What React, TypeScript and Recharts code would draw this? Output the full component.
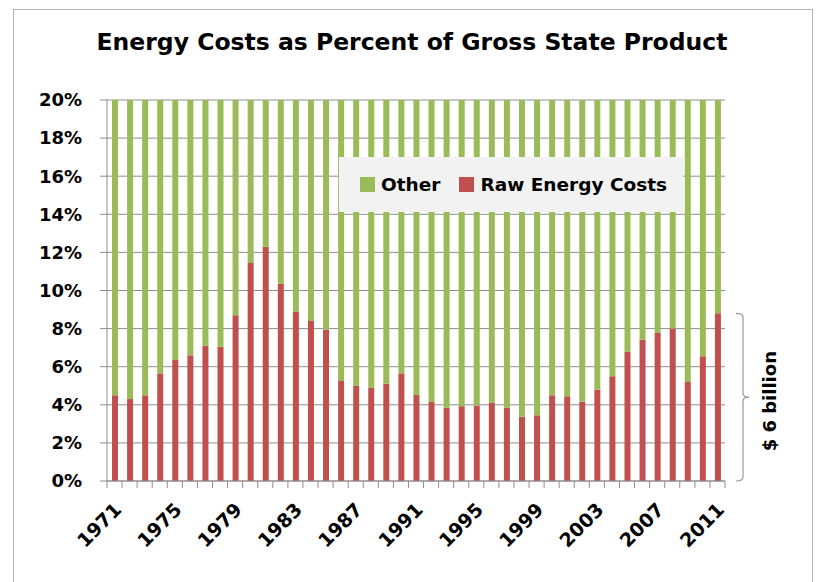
import { BarChart, Bar, XAxis, YAxis, CartesianGrid, ReferenceArea } from 'recharts'

const title = 'Energy Costs as Percent of Gross State Product'

const years = [
    1971, 1972, 1973, 1974, 1975, 1976, 1977, 1978, 1979, 1980,
    1981, 1982, 1983, 1984, 1985, 1986, 1987, 1988, 1989, 1990,
    1991, 1992, 1993, 1994, 1995, 1996, 1997, 1998, 1999, 2000,
    2001, 2002, 2003, 2004, 2005, 2006, 2007, 2008, 2009, 2010,
    2011,
]

// raw energy costs, % of gross state product
const rawEnergy = [
    4.5, 4.3, 4.5, 5.65, 6.35, 6.6, 7.1, 7.05, 8.7, 11.45,
    12.3, 10.35, 8.9, 8.4, 7.95, 5.25, 5.0, 4.9, 5.1, 5.65,
    4.52, 4.15, 3.85, 3.93, 3.96, 4.12, 3.85, 3.38, 3.45, 4.5,
    4.45, 4.17, 4.8, 5.5, 6.8, 7.42, 7.77, 8.0, 5.2, 6.55,
    8.8,
]

// bars are filled up to this total with "Other"
const TOTAL = 20
const yTicks = [0, 2, 4, 6, 8, 10, 12, 14, 16, 18, 20]
const labelEvery = 4

const seriesOther = 'Other'
const seriesRaw = 'Raw Energy Costs'
const bracketLabel = '$ 6 billion'

const data = years.map((year, i) => ({
    year: String(year),
    raw: rawEnergy[i],
    other: TOTAL - rawEnergy[i],
}))

const W = 817
const H = 582
const MARGIN = { top: 100, right: 92, bottom: 71, left: 47 }
const Y_AXIS_W = 60
const PLOT_W = W - MARGIN.left - Y_AXIS_W - MARGIN.right
const BAND = PLOT_W / years.length

const FONT = '"DejaVu Sans", sans-serif'
const GREEN = '#9BBB59'
const RED = '#C0504D'
const GRID = '#8e8e8e'

function YearTick(props: any) {
    const { x, y, index } = props
    const left = x - BAND / 2
    const isLast = index === years.length - 1
    const ax = x + 8
    const ay = y + 30
    return (
        <g>
            <line x1={left} y1={y} x2={left} y2={y + 7} stroke={GRID} />
            {isLast && <line x1={x + BAND / 2} y1={y} x2={x + BAND / 2} y2={y + 7} stroke={GRID} />}
            {index % labelEvery === 0 && (
                <text
                    x={ax}
                    y={ay}
                    textAnchor="end"
                    transform={`rotate(-45, ${ax}, ${ay})`}
                    fontFamily={FONT}
                    fontWeight="bold"
                    fontSize={19}
                    fill="#000"
                >
                    {props.payload.value}
                </text>
            )}
        </g>
    )
}

function Brace(props: any) {
    const { x, y, width, height } = props
    const vx = x + width + 18
    const top = y
    const bot = y + height
    const mid = (top + bot) / 2
    const d = `M ${vx - 7} ${top} Q ${vx} ${top} ${vx} ${top + 4} L ${vx} ${mid - 4} Q ${vx} ${mid} ${vx + 6} ${mid} Q ${vx} ${mid} ${vx} ${mid + 4} L ${vx} ${bot - 4} Q ${vx} ${bot} ${vx - 7} ${bot}`
    const tx = vx + 33
    const ty = mid + 4
    return (
        <g>
            <path d={d} fill="none" stroke="#9a9a9a" strokeWidth={1.2} />
            <text
                x={tx}
                y={ty}
                textAnchor="middle"
                transform={`rotate(-90, ${tx}, ${ty})`}
                fontFamily={FONT}
                fontWeight="bold"
                fontSize={18}
                fill="#000"
            >
                {bracketLabel}
            </text>
        </g>
    )
}

function LegendBox() {
    const item = (color: string, label: string, gap: number) => (
        <div style={{ display: 'flex', alignItems: 'center', marginRight: gap }}>
            <div style={{ width: 15, height: 15, background: color, marginRight: 6 }} />
            <span>{label}</span>
        </div>
    )
    return (
        <div
            style={{
                position: 'absolute',
                left: 339,
                top: 157,
                width: 344,
                height: 55,
                background: '#f2f2f2',
                display: 'flex',
                alignItems: 'center',
                paddingLeft: 21,
                boxSizing: 'border-box',
                fontFamily: FONT,
                fontWeight: 'bold',
                fontSize: 18.5,
                color: '#000',
            }}
        >
            {item(GREEN, seriesOther, 19)}
            {item(RED, seriesRaw, 0)}
        </div>
    )
}

export default function App() {
    return (
        <div style={{ position: 'relative', width: W, height: H, overflow: 'hidden', background: '#fff' }}>
            <style>{'body { margin: 0; }'}</style>
            <div
                style={{
                    position: 'absolute',
                    left: 13,
                    top: 9,
                    width: 800,
                    height: 600,
                    border: '1px solid #b4b4b4',
                    boxSizing: 'border-box',
                }}
            />
            <svg width={W} height={60} style={{ position: 'absolute', left: 0, top: 0 }}>
                <text
                    x={412}
                    y={50}
                    textAnchor="middle"
                    fontFamily={FONT}
                    fontWeight="bold"
                    fontSize={23.5}
                    fill="#000"
                >
                    {title}
                </text>
            </svg>
            <div style={{ position: 'absolute', left: 0, top: 0 }}>
                <BarChart width={W} height={H} data={data} margin={MARGIN} barSize={6}>
                    <CartesianGrid vertical={false} stroke={GRID} />
                    <XAxis
                        dataKey="year"
                        interval={0}
                        tickLine={false}
                        tickSize={0}
                        tickMargin={0}
                        height={30}
                        axisLine={{ stroke: GRID }}
                        tick={<YearTick />}
                    />
                    <YAxis
                        width={Y_AXIS_W}
                        domain={[0, TOTAL]}
                        ticks={yTicks}
                        tickFormatter={(v: number) => `${v}%`}
                        tickSize={7}
                        tickMargin={18}
                        axisLine={{ stroke: GRID }}
                        tickLine={{ stroke: GRID }}
                        tick={{ fontFamily: FONT, fontWeight: 'bold', fontSize: 18, fill: '#000' }}
                    />
                    <Bar dataKey="raw" name={seriesRaw} stackId="a" fill={RED} isAnimationActive={false} />
                    <Bar dataKey="other" name={seriesOther} stackId="a" fill={GREEN} isAnimationActive={false} />
                    <ReferenceArea
                        x1={data[data.length - 1].year}
                        x2={data[data.length - 1].year}
                        y1={0}
                        y2={rawEnergy[rawEnergy.length - 1]}
                        ifOverflow="visible"
                        shape={<Brace />}
                    />
                </BarChart>
            </div>
            <LegendBox />
        </div>
    )
}
